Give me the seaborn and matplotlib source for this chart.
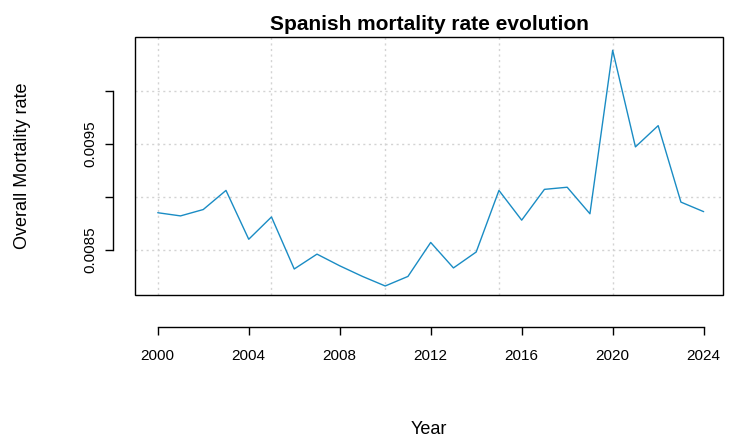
import matplotlib
matplotlib.use("Agg")
import matplotlib.pyplot as plt
import seaborn as sns
import pandas as pd
from matplotlib.patches import Rectangle

years = list(range(2000, 2025))
rates = [0.00885, 0.00882, 0.00888, 0.00906, 0.00860, 0.00881, 0.00832, 0.00846,
         0.00835, 0.00825, 0.00816, 0.00825, 0.00857, 0.00833, 0.00848, 0.00906,
         0.00878, 0.00907, 0.00909, 0.00884, 0.01038, 0.00947, 0.00967, 0.00895, 0.00886]
df = pd.DataFrame({"Year": years, "Rate": rates})

sns.set_theme(style="white")
plt.rcParams['font.family'] = ['Liberation Sans', 'DejaVu Sans']
plt.rcParams['text.color'] = 'black'
plt.rcParams['axes.labelcolor'] = 'black'
plt.rcParams['xtick.color'] = 'black'
plt.rcParams['ytick.color'] = 'black'
fig = plt.figure(figsize=(7.33, 4.42), dpi=100)
ax = fig.add_axes([135/733, 1-295/442, (723-135)/733, (295-37)/442])
sns.lineplot(data=df, x="Year", y="Rate", ax=ax, color="#1a8cc4", lw=1)
ax.set_xlim(1999.0, 2024.85)
ax.set_ylim(0.008075, 0.010505)
for gx in range(2000, 2026, 5):
    ax.axvline(gx, color="lightgray", ls=(0, (1.5, 2.5)), lw=1, zorder=0)
for gy in [0.0085, 0.0090, 0.0095, 0.0100]:
    ax.axhline(gy, color="lightgray", ls=(0, (1.5, 2.5)), lw=1, zorder=0)
ax.add_patch(Rectangle((0, 0), 1, 1, transform=ax.transAxes, fill=False, ec="black", lw=1, clip_on=False))
for s in ["top", "right"]:
    ax.spines[s].set_visible(False)
ax.spines["bottom"].set_position(("outward", 23))
ax.spines["left"].set_position(("outward", 16))
ax.spines["bottom"].set_bounds(2000, 2024)
ax.spines["left"].set_bounds(0.0085, 0.0100)
for s in ["bottom", "left"]:
    ax.spines[s].set_color("black")
    ax.spines[s].set_linewidth(1)
ax.set_xticks(range(2000, 2025, 4))
ax.set_yticks([0.0085, 0.0090, 0.0095, 0.0100])
ax.set_yticklabels(["0.0085", "", "0.0095", ""], rotation=90, va="center")
ax.tick_params(axis="both", direction="out", length=6, width=1, color="black", labelsize=11, bottom=True, left=True, pad=10)
ax.tick_params(axis="y", pad=5)
ax.set_xlabel("Year", fontsize=13, labelpad=42)
ax.set_ylabel("Overall Mortality rate", fontsize=13, labelpad=38)
ax.set_title("Spanish mortality rate evolution", fontsize=15, fontweight="bold", pad=5, color="black")
fig.savefig("out.png", dpi=100)
